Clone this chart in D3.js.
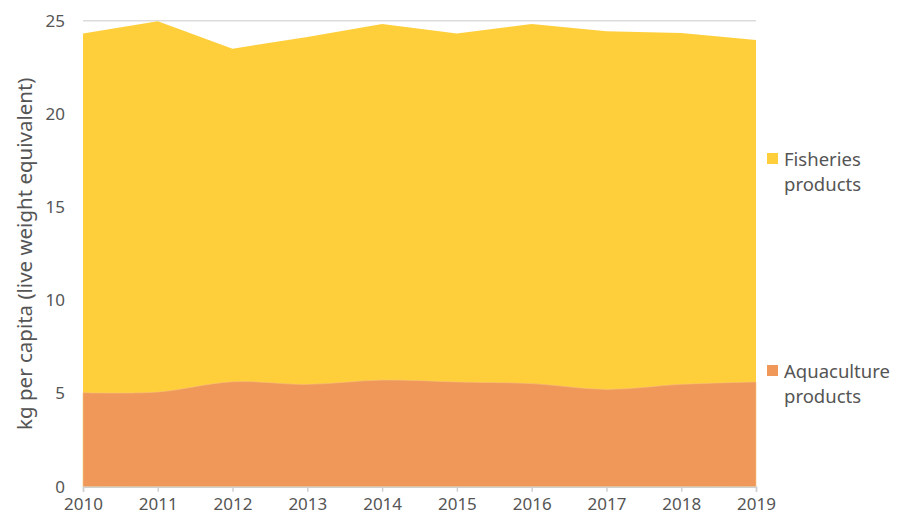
<!DOCTYPE html>
<html>
<head>
<meta charset="utf-8">
<script src="https://cdn.jsdelivr.net/npm/d3@7"></script>
<style>
  body { margin: 0; background: #fff; }
  text { font-family: "Noto Sans", sans-serif; fill: #555; }
</style>
</head>
<body>
<div id="chart"></div>
<script>
// data (kg per capita)
var years = [2010, 2011, 2012, 2013, 2014, 2015, 2016, 2017, 2018, 2019];
var aquaculture = [5.04, 5.08, 5.63, 5.49, 5.72, 5.62, 5.53, 5.22, 5.49, 5.62];
var fisheries = [19.28, 19.89, 17.87, 18.64, 19.10, 18.70, 19.29, 19.21, 18.85, 18.34];
var yTicks = [0, 5, 10, 15, 20, 25];
var legendItems = [
  { lines: ['Fisheries', 'products'], color: '#ffcf3b', value: 'fisheries' },
  { lines: ['Aquaculture', 'products'], color: '#f0975a', value: 'aquaculture' },
];

var width = 900;
var height = 518;
var margins = { top: 20.7, right: 144, bottom: 31.3, left: 83 };

var svg = d3.select('#chart')
  .append('svg')
  .attr('width', width)
  .attr('height', height);

var x = d3.scaleLinear()
  .domain([years[0], years[years.length - 1]])
  .range([margins.left, width - margins.right]);

var y = d3.scaleLinear()
  .domain([0, 25])
  .range([height - margins.bottom, margins.top]);

var rows = years.map((yr, i) => ({
  year: yr,
  aquaculture: aquaculture[i],
  total: aquaculture[i] + fisheries[i],
}));

// gridlines
svg.append('g')
  .selectAll('line')
  .data(yTicks.filter(d => d > 0))
  .enter()
  .append('line')
  .attr('x1', x.range()[0])
  .attr('x2', x.range()[1])
  .attr('y1', d => y(d))
  .attr('y2', d => y(d))
  .attr('stroke', '#dcdcdc')
  .attr('stroke-width', 1.5);

// fisheries stacked on top (drawn full height, aquaculture goes over it)
var totalArea = d3.area()
  .x(d => x(d.year))
  .y0(y(0))
  .y1(d => y(d.total));

svg.append('path')
  .datum(rows)
  .attr('d', totalArea)
  .attr('fill', legendItems[0].color);

var aquaArea = d3.area()
  .curve(d3.curveCatmullRom)
  .x(d => x(d.year))
  .y0(y(0))
  .y1(d => y(d.aquaculture));

svg.append('path')
  .datum(rows)
  .attr('d', aquaArea)
  .attr('fill', legendItems[1].color)
  .attr('stroke', '#f6c27a')
  .attr('stroke-width', 0.6);

// x axis
var xAxis = svg.append('g')
  .attr('transform', `translate(0,${y(0)})`)
  .call(d3.axisBottom(x).tickValues(years).tickFormat(d3.format('d')).tickSize(5).tickPadding(6));
xAxis.select('.domain').attr('stroke', '#d0d0d0').attr('stroke-width', 1.5);
xAxis.selectAll('.tick line').attr('stroke', '#d0d0d0').attr('stroke-width', 1.5);
xAxis.selectAll('.tick text')
  .attr('font-size', 17)
  .attr('font-family', '"Noto Sans", sans-serif')
  .attr('fill', '#555');

// y axis labels
var yAxis = svg.append('g')
  .attr('transform', `translate(${margins.left},0)`)
  .call(d3.axisLeft(y).tickValues(yTicks).tickSize(0).tickPadding(18));
yAxis.select('.domain').remove();
yAxis.selectAll('.tick text')
  .attr('font-size', 17)
  .attr('font-family', '"Noto Sans", sans-serif')
  .attr('fill', '#555');

svg.append('text')
  .attr('transform', `translate(32,${(y(0) + y(25)) / 2}) rotate(-90)`)
  .attr('text-anchor', 'middle')
  .attr('font-size', 20.5)
  .text('kg per capita (live weight equivalent)');

// legend
var legendY = [153, 365];
legendItems.forEach(function (item, i) {
  var g = svg.append('g').attr('transform', `translate(767,${legendY[i]})`);
  g.append('rect')
    .attr('width', 11)
    .attr('height', 11)
    .attr('fill', item.color);
  g.selectAll('text')
    .data(item.lines)
    .enter()
    .append('text')
    .attr('x', 17)
    .attr('y', (d, j) => 13 + j * 25)
    .attr('font-size', 18.5)
    .text(d => d);
});
</script>
</body>
</html>
